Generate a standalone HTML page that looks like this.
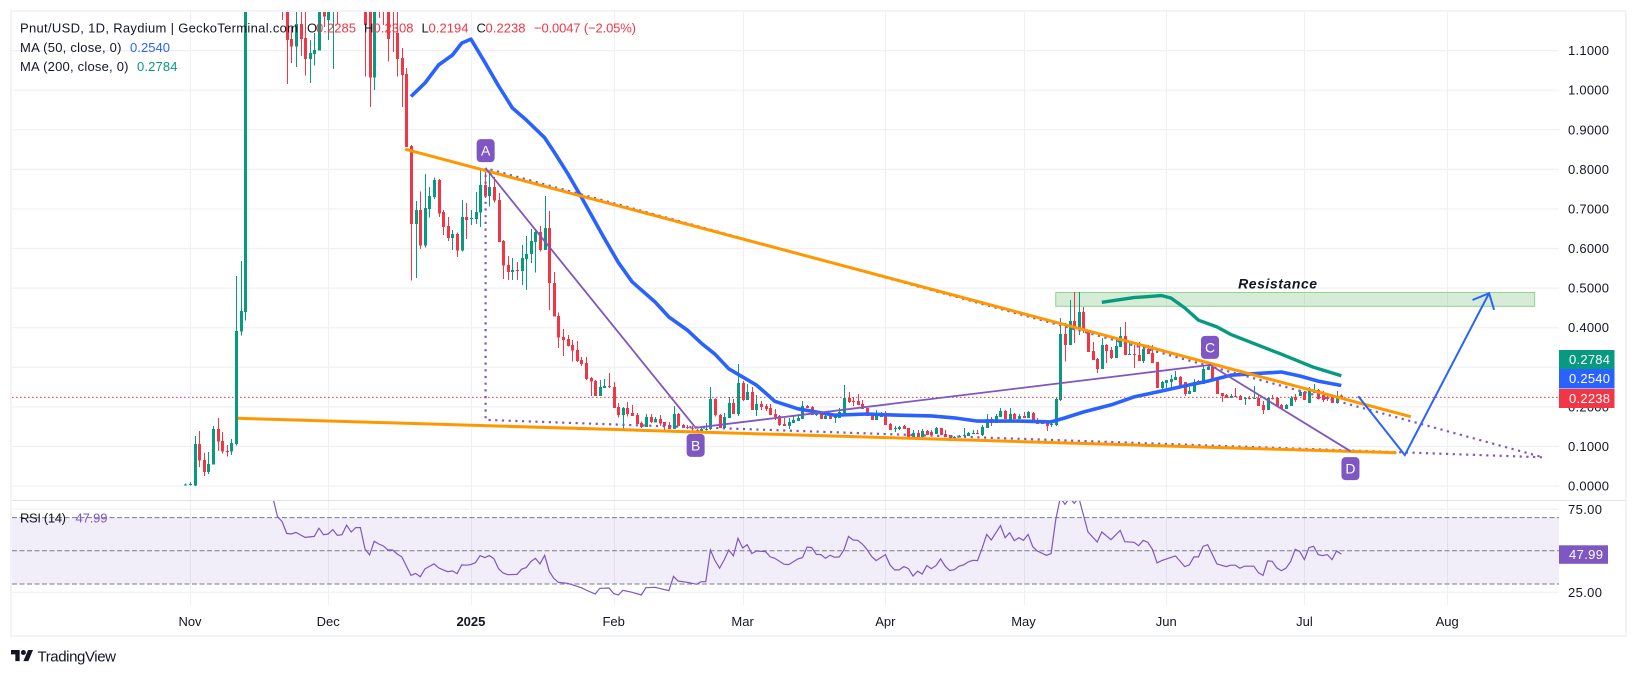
<!DOCTYPE html>
<html lang="en">
<head>
<meta charset="utf-8">
<title>Pnut/USD chart</title>
<style>
html,body{margin:0;padding:0;background:#fff;width:1637px;height:676px;overflow:hidden}
svg{display:block;font-family:"Liberation Sans",sans-serif;filter:blur(.3px)}
text{fill:#131722;font-size:13px}
</style>
</head>
<body>
<svg id="chart" width="1637" height="676" viewBox="0 0 1637 676" xmlns="http://www.w3.org/2000/svg">
<defs>
<clipPath id="pricePane"><rect x="12" y="12" width="1547" height="488"/></clipPath>
<clipPath id="rsiPane"><rect x="12" y="501" width="1547" height="104"/></clipPath>
</defs>
<rect x="0" y="0" width="1637" height="676" fill="#ffffff"/>
<g id="gridLayer"></g>
<g id="rsiLayer" clip-path="url(#rsiPane)"></g>
<g id="zoneLayer" clip-path="url(#pricePane)"></g>
<g id="candleLayer" clip-path="url(#pricePane)"></g>
<g id="lineLayer" clip-path="url(#pricePane)"></g>
<g id="axisLayer"></g>
<g id="frame" fill="#f0f3fa">
<rect x="10" y="10" width="1617" height="2"/>
<rect x="10" y="10" width="2" height="627"/>
<rect x="1625" y="10" width="2" height="627"/>
<rect x="10" y="635" width="1617" height="2"/>
</g>
<g id="legend">
<text x="20" y="32.5" textLength="278" lengthAdjust="spacing">Pnut/USD, 1D, Raydium | GeckoTerminal.com</text>
<text x="307" y="32.5">O</text>
<text x="316" y="32.5" style="fill:#f23645" textLength="40">0.2285</text>
<text x="364" y="32.5">H</text>
<text x="373.5" y="32.5" style="fill:#f23645" textLength="40">0.2308</text>
<text x="421.5" y="32.5">L</text>
<text x="428.5" y="32.5" style="fill:#f23645" textLength="40">0.2194</text>
<text x="476.5" y="32.5">C</text>
<text x="485.5" y="32.5" style="fill:#f23645" textLength="40">0.2238</text>
<text x="534" y="32.5" style="fill:#f23645" textLength="102">−0.0047 (−2.05%)</text>
<text x="20" y="52" textLength="101.5">MA (50, close, 0)</text>
<text x="130" y="52" style="fill:#2962ff" textLength="40">0.2540</text>
<text x="20" y="71" textLength="108.5">MA (200, close, 0)</text>
<text x="137" y="71" style="fill:#089981" textLength="40.5">0.2784</text>
<text x="20" y="522.5" textLength="46">RSI (14)</text>
<text x="75.5" y="522.5" style="fill:#7e57c2" textLength="32">47.99</text>
</g>
<g id="logo">
<g transform="translate(11,647.5) scale(.62)" fill="#131722">
<path d="M14 22H7V11H0V4h14v18z"/>
<circle cx="20" cy="8" r="4"/>
<path d="M28 22h-8l7.5-18h8L28 22z"/>
</g>
<text x="37.5" y="661.5" style="font-size:15px" textLength="78.5">TradingView</text>
</g>
</svg>
<script>
// ---- axis ticks ----
const priceTicks = [0, 0.1, 0.2, 0.3, 0.4, 0.5, 0.6, 0.7, 0.8, 0.9, 1.0, 1.1];
const hiddenPriceTicks = [0.3];
const rsiTicks = [25, 75];
const rsiLevels = [30, 50, 70];
const monthLabels = ["Nov", "Dec", "2025", "Feb", "Mar", "Apr", "May", "Jun", "Jul", "Aug"];
const monthDays = [0, 30, 61, 92, 120, 151, 181, 212, 242, 273];

// ---- candles: first entry is day -1 (days since Nov 1) ----
const firstCandleDay = -1;
const opens = [.002,.002,
.001,.106,.066,.036,.054,.144,.114,.088,.087,.106,
.390,.440,1.35,1.45,1.38,1.42,1.55,1.48,1.36,1.30,
1.22,1.129,1.110,1.167,1.132,1.079,1.091,1.100,1.25,1.177,
1.23,1.30,1.28,1.25,1.30,1.28,1.30,1.27,1.25,1.032,
1.30,1.24,1.25,1.25,1.145,1.081,1.041,.859,.662,.697,
.607,.700,.730,.773,.692,.657,.627,.637,.595,.680,
.675,.675,.691,.760,.733,.756,.723,.619,.558,.541,
.546,.543,.574,.586,.617,.642,.596,.652,.513,.430,
.376,.371,.356,.344,.318,.311,.273,.265,.228,.248,
.253,.250,.200,.179,.197,.184,.179,.159,.149,.174,
.161,.169,.162,.154,.144,.182,.154,.149,.147,.141,
.136,.141,.144,.220,.179,.147,.172,.210,.182,.260,
.217,.237,.192,.207,.202,.197,.182,.177,.157,.152,
.159,.164,.169,.202,.200,.179,.184,.169,.177,.172,
.172,.184,.222,.215,.215,.207,.197,.179,.167,.174,
.184,.157,.144,.144,.152,.147,.124,.134,.124,.139,
.136,.131,.147,.131,.129,.122,.123,.126,.126,.131,
.134,.129,.147,.169,.159,.174,.189,.167,.182,.169,
.177,.172,.184,.167,.164,.162,.154,.154,.217,.384,
.356,.417,.399,.440,.394,.341,.321,.296,.356,.344,
.323,.351,.379,.331,.334,.331,.316,.346,.336,.313,
.248,.260,.263,.268,.275,.263,.232,.237,.265,.258,
.293,.301,.268,.235,.230,.222,.227,.227,.220,.222,
.220,.222,.205,.192,.222,.222,.205,.195,.202,.225,
.227,.237,.210,.235,.243,.230,.225,.227,.210,.2285];
const highs = [.006,.010,
.126,.139,.083,.086,.152,.172,.136,.104,.119,.531,
.568,1.5,1.55,1.6,1.5,1.62,1.7,1.6,1.5,1.4,
1.3,1.16,1.25,1.25,1.22,1.127,1.145,1.3,1.3,1.3,
1.4,1.4,1.38,1.4,1.38,1.35,1.36,1.32,1.3,1.35,
1.38,1.3,1.3,1.3,1.2,1.107,1.056,.862,.720,.744,
.788,.755,.779,.776,.697,.680,.647,.640,.723,.715,
.697,.743,.798,.801,.798,.781,.740,.622,.581,.576,
.566,.609,.632,.649,.649,.657,.733,.695,.541,.438,
.397,.382,.369,.366,.326,.326,.275,.268,.268,.270,
.285,.263,.210,.200,.212,.205,.184,.163,.182,.182,
.174,.179,.162,.162,.202,.184,.157,.154,.152,.144,
.146,.159,.250,.221,.182,.184,.225,.220,.308,.265,
.258,.250,.230,.215,.207,.207,.195,.179,.172,.172,
.177,.182,.215,.205,.202,.189,.187,.179,.184,.182,
.197,.255,.237,.225,.232,.217,.197,.179,.192,.187,
.189,.159,.152,.152,.154,.147,.141,.141,.144,.141,
.141,.149,.147,.141,.129,.126,.129,.147,.136,.141,
.141,.154,.182,.174,.182,.197,.192,.197,.184,.182,
.187,.189,.187,.172,.167,.164,.159,.222,.424,.412,
.470,.490,.490,.452,.396,.364,.323,.374,.359,.351,
.376,.402,.414,.364,.356,.364,.351,.356,.356,.313,
.265,.268,.280,.290,.278,.263,.250,.270,.268,.306,
.306,.303,.268,.235,.232,.232,.248,.230,.225,.227,
.253,.230,.215,.225,.230,.225,.207,.207,.228,.232,
.243,.240,.250,.258,.245,.240,.232,.230,.240,.2308];
const lows = [.001,.001,
.000,.048,.025,.030,.054,.089,.082,.074,.078,.102,
.380,.418,1.25,1.3,1.28,1.35,1.4,1.3,1.25,1.177,
1.016,1.069,1.059,1.087,1.037,1.018,1.062,1.100,1.160,1.127,
1.054,1.167,1.22,1.198,1.24,1.22,1.25,1.034,.958,1.000,
1.182,1.165,1.072,1.097,1.034,.958,.856,.519,.526,.599,
.602,.678,.725,.680,.634,.619,.596,.579,.592,.624,
.659,.662,.655,.728,.706,.716,.617,.523,.520,.520,
.520,.508,.495,.563,.539,.592,.596,.445,.428,.349,
.329,.352,.314,.313,.303,.268,.228,.228,.228,.248,
.248,.197,.173,.140,.175,.177,.157,.147,.149,.159,
.161,.152,.139,.144,.144,.152,.147,.144,.135,.134,
.136,.140,.141,.175,.147,.147,.172,.182,.177,.215,
.217,.192,.177,.192,.189,.179,.167,.152,.152,.144,
.159,.164,.169,.197,.179,.177,.169,.169,.169,.159,
.172,.184,.210,.202,.205,.195,.177,.167,.167,.174,
.154,.141,.136,.141,.144,.124,.124,.124,.119,.129,
.129,.131,.129,.124,.119,.119,.123,.126,.126,.131,
.131,.126,.147,.152,.159,.174,.169,.167,.169,.169,
.172,.172,.164,.157,.157,.139,.149,.152,.215,.314,
.356,.361,.382,.387,.339,.318,.286,.296,.311,.321,
.323,.351,.331,.331,.298,.316,.311,.334,.311,.248,
.240,.248,.248,.268,.253,.227,.232,.237,.258,.258,
.293,.265,.232,.212,.222,.222,.225,.217,.205,.218,
.220,.202,.182,.192,.218,.202,.195,.195,.202,.212,
.227,.217,.210,.235,.218,.212,.215,.210,.208,.2194];
const closes = [.004,.005,
.106,.064,.036,.056,.144,.112,.087,.086,.109,.392,
.442,1.35,1.45,1.38,1.42,1.55,1.48,1.36,1.30,1.22,
1.127,1.110,1.167,1.129,1.079,1.094,1.102,1.25,1.186,1.25,
1.28,1.25,1.32,1.30,1.28,1.30,1.27,1.165,1.032,1.3,
1.24,1.21,1.129,1.205,1.079,1.038,.856,.662,.697,.607,
.702,.733,.773,.689,.655,.626,.637,.595,.680,.672,
.677,.692,.760,.733,.756,.721,.617,.557,.541,.546,
.543,.576,.586,.619,.642,.596,.652,.513,.428,.375,
.369,.354,.342,.316,.308,.270,.264,.228,.250,.253,
.250,.197,.179,.197,.182,.177,.157,.149,.174,.162,
.169,.158,.152,.144,.182,.152,.147,.147,.144,.136,
.144,.144,.220,.179,.147,.174,.210,.182,.260,.217,
.237,.192,.207,.200,.195,.179,.174,.154,.152,.162,
.167,.172,.202,.197,.179,.182,.169,.177,.169,.179,
.187,.222,.212,.212,.205,.195,.177,.167,.182,.182,
.154,.141,.147,.149,.144,.124,.134,.124,.139,.129,
.129,.147,.129,.124,.119,.124,.126,.129,.134,.134,
.131,.149,.169,.159,.177,.189,.169,.182,.169,.177,
.172,.187,.164,.157,.157,.152,.157,.220,.384,.356,
.417,.399,.440,.394,.339,.318,.296,.356,.341,.323,
.354,.379,.331,.334,.331,.316,.346,.334,.311,.248,
.263,.268,.270,.275,.253,.232,.240,.263,.258,.296,
.301,.265,.232,.227,.222,.227,.225,.217,.222,.220,
.222,.202,.192,.222,.220,.202,.195,.205,.222,.217,
.237,.217,.240,.243,.220,.217,.220,.210,.227,.2238];

// ---- moving averages ----
const ma50Days = [48,51,54,57,59,61,64,67,70,73,77,79,82,85,87,90,93,96,101,104,108,111,114,117,123,125,127,132,136,140,147,154,161,166,171,180,187,190,194,200,205,211,216,221,226,237,241,245,250];
const ma50Values = [.984,1.018,1.064,1.089,1.119,1.129,1.071,1.011,.955,.925,.880,.845,.790,.730,.688,.625,.565,.516,.465,.427,.394,.361,.333,.296,.255,.235,.214,.195,.187,.179,.182,.179,.177,.172,.164,.164,.162,.172,.187,.205,.225,.240,.253,.265,.280,.288,.278,.265,.254];
const ma200Days = [198,205,211,213,216,219,223,226,233,237,244,250];
const ma200Values = [.464,.476,.481,.475,.450,.419,.402,.383,.351,.333,.300,.2784];

// ---- RSI ----
const rsiDays = [18,19,20,21,22,23,25,27,28,29,30,31,32,33,34,35,36,37,38,39,40,41,42,43,44,45,46,48,49,50,51,53,54,55,56,57,58,59,60,61,62,63,64,65,66,67,68,69,71,72,73,74,75,76,77,78,79,80,82,85,86,88,89,91,92,93,94,96,98,99,101,104,105,106,108,110,111,112,113,114,115,116,117,118,119,120,121,122,123,125,126,127,129,130,132,133,134,135,136,137,138,139,140,141,142,143,144,145,146,147,148,149,151,152,153,154,155,156,157,158,159,160,161,162,163,164,165,166,167,168,169,170,171,172,173,174,176,177,178,179,180,181,182,183,184,186,187,188,189,190,191,192,193,195,197,198,200,202,203,205,206,207,208,209,210,211,214,216,217,218,219,220,221,223,225,226,227,228,229,231,232,233,234,235,236,237,238,239,240,241,242,243,244,245,246,247,248,249,250];
const rsiValues = [82,70.6,67.6,60.5,60.1,61.1,58.1,58.7,63.6,59.7,60.1,62.8,59.3,59.7,65.4,61.3,64,64,51.1,47.5,55.7,54.1,52.9,50.5,50.5,48.1,46.3,35.2,36.4,34.4,39.1,42.1,39.7,38.5,37.4,37.9,36.2,41.5,41.3,41.7,42.9,47.1,45.9,47.1,45.3,39.3,36.6,35.6,35.8,38.9,39.9,43.5,45.5,42.1,47.3,37.7,33.4,31,30.4,27.8,26.4,24,27.4,27.6,24.2,23.4,26.2,25,23.4,27.8,28,26,34.6,31.8,31,29.8,31.4,31.4,50.5,44.1,39.5,44.5,50.5,46.9,57.5,51.7,53.7,48.3,49.9,49.5,46.3,45.5,41.9,41.7,45.1,45.9,52.3,51.9,47.9,47.7,45.5,47.3,46.1,46.3,50.5,58.7,56.5,56.3,54.1,50.9,46.7,44.1,47.7,41.5,38.5,38.5,40.5,39.3,34.8,37.7,36,41.1,39.3,41.1,45.1,40.7,38.1,38.7,40.7,41.5,43.3,44.3,44.1,51.5,59.9,56.5,65.2,57.9,60.9,56.1,57.9,56.3,59.9,52.5,49.9,47.3,48.3,68.6,82,78,82,78.6,82,61.3,55.3,61.3,56.7,62.3,55.5,55.1,53.1,56.3,55.1,50.9,42.7,44.1,46.9,40.5,41.5,46.3,46.3,52.7,53.7,42.1,40.5,41.3,41.3,39.5,40.7,40.7,36.8,35.2,43.9,43.7,39.7,38,39.5,43.5,50.9,49.5,44.7,51.9,52.7,47.7,47.1,47.7,44.7,49.9,47.99];

// ---- drawings (day, price) ----
const topTrendDays = [46.7, 265.1];
const topTrendPrices = [.851, .175];
const bottomTrendDays = [10.4, 262];
const bottomTrendPrices = [.171, .084];
const abcdDays = [64.2, 109.8, 221.5, 252];
const abcdPrices = [.803, .147, .306, .088];
const abcdLabels = ["A", "B", "C", "D"];
const abcdSides = [-1, 1, -1, 1];
const projectionDays = [64.2, 64.2, 293.8, 64.2];
const projectionPrices = [.803, .167, .0725, .803];
const arrowDays = [253.7, 263.8, 282.1];
const arrowPrices = [.227, .078, .487];
const arrowHeadDays = [278.5, 282.1, 283.2];
const arrowHeadPrices = [.470, .487, .445];
const zoneDays = [188, 292];
const zonePrices = [.489, .454];
const zoneLabel = "Resistance";
const zoneLabelDay = 227.6;
const zoneLabelPrice = .502;

// ---- last-value tags ----
const tagValues = [.2784, .2540, .2238];
const tagColors = ["#089981", "#2962ff", "#f23645"];
const tagTops = [350, 369, 389];
const tagHeights = [19, 19.5, 19];
const lastPrice = .2238;
const lastRsi = 47.99;

// ---- axis functions ----
const xOf = d => 190 + 4.605 * d;
const yOf = p => 486 - 395.8 * p;
const yRsi = v => 592.3 - (v - 25) * 1.66;

const NS = "http://www.w3.org/2000/svg";
function mk(tag, parent, attrs, txt) {
  const el = document.createElementNS(NS, tag);
  for (const k in attrs) el.setAttribute(k, attrs[k]);
  if (txt !== undefined) el.textContent = txt;
  parent.appendChild(el);
  return el;
}
const gridLayer = document.getElementById("gridLayer");
const rsiLayer = document.getElementById("rsiLayer");
const zoneLayer = document.getElementById("zoneLayer");
const candleLayer = document.getElementById("candleLayer");
const lineLayer = document.getElementById("lineLayer");
const axisLayer = document.getElementById("axisLayer");

// grid
priceTicks.forEach(p => {
  const el = mk("line", gridLayer, {x1: 12, x2: 1559, y1: yOf(p), y2: yOf(p), stroke: "#eef0f5", "stroke-width": 1.2});
  
  
});
rsiTicks.forEach(v => {
  const el = mk("line", gridLayer, {x1: 12, x2: 1559, y1: yRsi(v), y2: yRsi(v), stroke: "#eef0f5", "stroke-width": 1.2});
  
  
});
monthDays.forEach(d => {
  const x = Math.round(xOf(d)) + .5;
  const el = mk("line", gridLayer, {x1: x, x2: x, y1: 12, y2: 605, stroke: "#eef0f5", "stroke-width": 1});
  
  
});
const paneSep = mk("line", gridLayer, {x1: 12, x2: 1625, y1: 500.5, y2: 500.5, stroke: "#e0e3eb", "stroke-width": 1});



// RSI pane
const rsiBand = mk("rect", rsiLayer, {x: 12, y: yRsi(70), width: 1547, height: yRsi(30) - yRsi(70), fill: "#7e57c2", "fill-opacity": .1});


rsiLevels.forEach(v => {
  const el = mk("line", rsiLayer, {x1: 12, x2: 1559, y1: yRsi(v), y2: yRsi(v), stroke: "#787b86", "stroke-width": 1, "stroke-dasharray": "5 2.5"});
  
  
});
const rsiLine = mk("polyline", rsiLayer, {points: rsiDays.map((d, i) => xOf(d).toFixed(1) + "," + yRsi(rsiValues[i]).toFixed(1)).join(" "), fill: "none", stroke: "#7e57c2", "stroke-width": 1.2});



// zone
const zoneRect = mk("rect", zoneLayer, {x: xOf(zoneDays[0]), y: yOf(zonePrices[0]), width: xOf(zoneDays[1]) - xOf(zoneDays[0]), height: yOf(zonePrices[1]) - yOf(zonePrices[0]), fill: "#4caf50", "fill-opacity": .23, stroke: "#8fd392", "stroke-width": 1});



// candles
opens.forEach((o, i) => {
  const d = firstCandleDay + i, c = closes[i];
  const col = c >= o ? "#089981" : "#f23645";
  const x = Math.round(xOf(d));
  const g = mk("g", candleLayer, {fill: col, "shape-rendering": "crispEdges"});
  
  
  const wy = yOf(highs[i]);
  const wick = mk("rect", g, {x: x, y: wy, width: 1, height: yOf(lows[i]) - wy});
  
  
  const top = yOf(Math.max(o, c));
  const body = mk("rect", g, {x: x - 1, y: top, width: 3, height: Math.max(1, yOf(Math.min(o, c)) - top)});
  
  
});

// last price line
const priceLine = mk("line", lineLayer, {x1: 12, x2: 1559, y1: yOf(lastPrice), y2: yOf(lastPrice), stroke: "#f23645", "stroke-width": 1, "stroke-dasharray": "1.5 2.5"});



function pts(days, vals) {
  return days.map((d, i) => xOf(d).toFixed(1) + "," + yOf(vals[i]).toFixed(1)).join(" ");
}

// moving averages
const ma50Line = mk("polyline", lineLayer, {points: pts(ma50Days, ma50Values), fill: "none", stroke: "#2962ff", "stroke-width": 3.6, "stroke-linejoin": "round"});


const ma200Line = mk("polyline", lineLayer, {points: pts(ma200Days, ma200Values), fill: "none", stroke: "#089981", "stroke-width": 3.4, "stroke-linejoin": "round"});



// drawings
const projection = mk("polyline", lineLayer, {points: pts(projectionDays, projectionPrices), fill: "none", stroke: "#7e57c2", "stroke-width": 2.2, "stroke-dasharray": "2.2 4.5"});


const topTrend = mk("polyline", lineLayer, {points: pts(topTrendDays, topTrendPrices), fill: "none", stroke: "#ff9800", "stroke-width": 3});


const bottomTrend = mk("polyline", lineLayer, {points: pts(bottomTrendDays, bottomTrendPrices), fill: "none", stroke: "#ff9800", "stroke-width": 3});


const abcdLine = mk("polyline", lineLayer, {points: pts(abcdDays, abcdPrices), fill: "none", stroke: "#7e57c2", "stroke-width": 1.8});


const arrowLine = mk("polyline", lineLayer, {points: pts(arrowDays, arrowPrices), fill: "none", stroke: "#2962ff", "stroke-width": 2});


const arrowHead = mk("polyline", lineLayer, {points: pts(arrowHeadDays, arrowHeadPrices), fill: "none", stroke: "#2962ff", "stroke-width": 2});



// badges
abcdLabels.forEach((lab, i) => {
  const cx = xOf(abcdDays[i]);
  const cy = yOf(abcdPrices[i]) + abcdSides[i] * 17.5;
  const r = mk("rect", lineLayer, {x: cx - 9, y: cy - 11.5, width: 18, height: 23, rx: 4, fill: "#7e57c2"});
  
  
  const t = mk("text", lineLayer, {x: cx, y: cy + 5, "text-anchor": "middle", style: "fill:#fff;font-size:14px"}, lab);
  
  
});
const zoneText = mk("text", lineLayer, {x: xOf(zoneLabelDay), y: yOf(zoneLabelPrice) + 1, textLength: 79, style: "font-size:14px;font-weight:bold;font-style:italic;fill:#131722"}, zoneLabel);



// axes
priceTicks.forEach(p => {
  if (hiddenPriceTicks.includes(p)) return;
  const t = mk("text", axisLayer, {x: 1568, y: yOf(p) + 4.5, textLength: 41}, p.toFixed(4));
  
  
});
rsiTicks.forEach(v => {
  const t = mk("text", axisLayer, {x: 1568, y: yRsi(v) + 4.5, textLength: 34}, v.toFixed(2));
  
  
});
monthLabels.forEach((lab, i) => {
  const bold = lab === "2025";
  const t = mk("text", axisLayer, {x: xOf(monthDays[i]), y: 626, "text-anchor": "middle", style: bold ? "font-weight:bold" : ""}, lab);
  
  
});
tagValues.forEach((v, i) => {
  const r = mk("rect", axisLayer, {x: 1559, y: tagTops[i], width: 55.5, height: tagHeights[i], fill: tagColors[i]});
  
  
  const t = mk("text", axisLayer, {x: 1569, y: tagTops[i] + 14, textLength: 41, style: "fill:#fff"}, v.toFixed(4));
  
  
});
const rsiTag = mk("rect", axisLayer, {x: 1559, y: 545.3, width: 49, height: 18.5, fill: "#7e57c2"});


const rsiTagText = mk("text", axisLayer, {x: 1569, y: 559, textLength: 34, style: "fill:#fff"}, lastRsi.toFixed(2));


</script>
</body>
</html>
